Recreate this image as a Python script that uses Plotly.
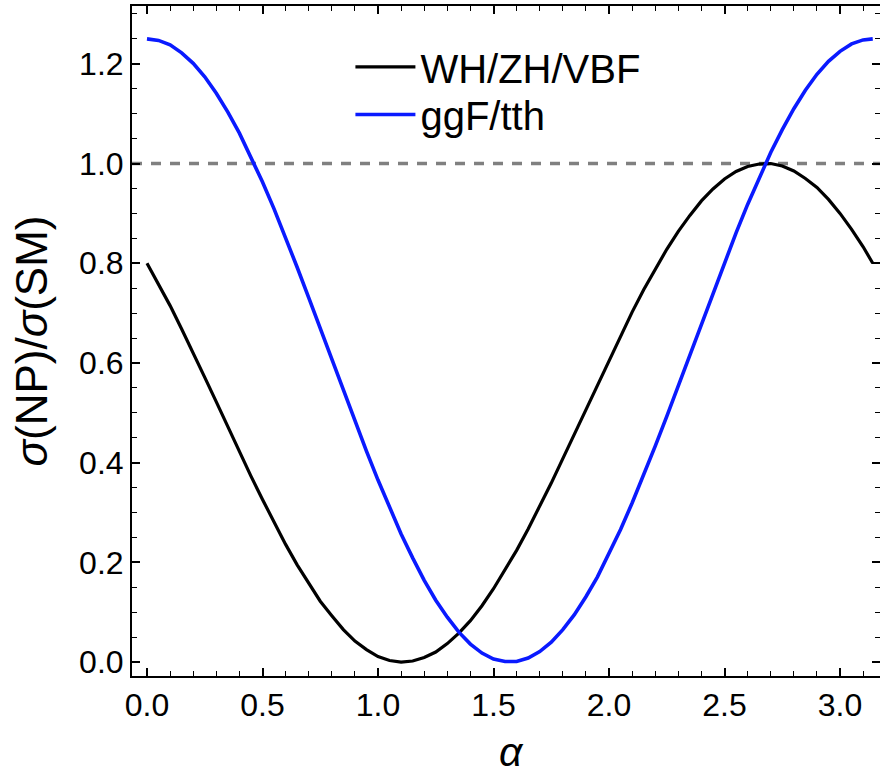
import plotly.graph_objects as go

alpha = [0.0, 0.05, 0.1, 0.15, 0.2, 0.25, 0.3, 0.35, 0.4, 0.45, 0.5, 0.55, 0.6, 0.65, 0.7, 0.75,
         0.8, 0.85, 0.9, 0.95, 1.0, 1.05, 1.1, 1.15, 1.2, 1.25, 1.3, 1.35, 1.4, 1.45, 1.5, 1.55,
         1.6, 1.65, 1.7, 1.75, 1.8, 1.85, 1.9, 1.95, 2.0, 2.05, 2.1, 2.15, 2.2, 2.25, 2.3, 2.35,
         2.4, 2.45, 2.5, 2.55, 2.6, 2.65, 2.7, 2.75, 2.8, 2.85, 2.9, 2.95, 3.0, 3.05, 3.1, 3.1416]

wh_zh_vbf = [0.800, 0.759, 0.715, 0.668, 0.621, 0.571, 0.522, 0.472, 0.422, 0.373, 0.326, 0.280,
             0.236, 0.195, 0.158, 0.122, 0.093, 0.065, 0.042, 0.025, 0.011, 0.003, 0.000, 0.002,
             0.009, 0.020, 0.037, 0.058, 0.083, 0.113, 0.147, 0.184, 0.224, 0.267, 0.312, 0.359,
             0.408, 0.457, 0.507, 0.557, 0.607, 0.655, 0.702, 0.747, 0.789, 0.828, 0.864, 0.896,
             0.925, 0.949, 0.969, 0.984, 0.994, 0.999, 1.000, 0.995, 0.985, 0.970, 0.952, 0.928,
             0.900, 0.868, 0.833, 0.800]

ggf_tth = [1.250, 1.247, 1.238, 1.222, 1.201, 1.174, 1.141, 1.103, 1.061, 1.014, 0.963, 0.909,
           0.852, 0.792, 0.731, 0.669, 0.607, 0.545, 0.483, 0.423, 0.365, 0.310, 0.257, 0.209,
           0.164, 0.124, 0.090, 0.060, 0.036, 0.018, 0.006, 0.001, 0.001, 0.008, 0.021, 0.040,
           0.065, 0.095, 0.131, 0.171, 0.217, 0.266, 0.319, 0.375, 0.433, 0.493, 0.555, 0.617,
           0.680, 0.742, 0.802, 0.861, 0.918, 0.972, 1.022, 1.068, 1.110, 1.147, 1.179, 1.205,
           1.225, 1.240, 1.248, 1.250]

ref_x = [-0.0649, 3.173]
ref_y = [1.0, 1.0]

x_ticks = [0.0, 0.5, 1.0, 1.5, 2.0, 2.5, 3.0]
x_ticklabels = ["0.0", "0.5", "1.0", "1.5", "2.0", "2.5", "3.0"]
y_ticks = [0.0, 0.2, 0.4, 0.6, 0.8, 1.0, 1.2]
y_ticklabels = ["0.0", "0.2", "0.4", "0.6", "0.8", "1.0", "1.2"]

FONT = "Liberation Sans, Arial, sans-serif"

fig = go.Figure()
fig.add_trace(go.Scatter(x=ref_x, y=ref_y, mode="lines", showlegend=False,
                         line=dict(color="#808080", width=3.5, dash="10px,9px"),
                         hoverinfo="skip"))
fig.add_trace(go.Scatter(x=alpha, y=wh_zh_vbf, mode="lines", name="WH/ZH/VBF",
                         line=dict(color="black", width=3.2), legend="legend"))
fig.add_trace(go.Scatter(x=alpha, y=ggf_tth, mode="lines", name="ggF/tth",
                         line=dict(color="#0a1aff", width=3.6), legend="legend2"))

axis_common = dict(
    showline=True, linecolor="black", linewidth=2, mirror="ticks",
    ticks="inside", ticklen=8, tickwidth=1.5, tickcolor="black",
    showgrid=False, zeroline=False,
    tickfont=dict(family=FONT, size=32, color="black"),
)

fig.update_xaxes(
    range=[-0.0649, 3.173], tickmode="array", tickvals=x_ticks, ticktext=x_ticklabels,
    minor=dict(dtick=0.1, tick0=0, ticks="inside", ticklen=5, tickwidth=1.3, tickcolor="black"),
    **axis_common,
)
fig.update_yaxes(
    range=[-0.028, 1.316], tickmode="array", tickvals=y_ticks, ticktext=y_ticklabels,
    minor=dict(dtick=0.05, tick0=0, ticks="inside", ticklen=5, tickwidth=1.3, tickcolor="black"),
    title=dict(text="<i>σ</i>(NP)/<i>σ</i>(SM)", font=dict(family=FONT, size=44, color="black"), standoff=18),
    **axis_common,
)

fig.add_annotation(text="<i>α</i>", xref="paper", yref="paper", x=0.507, y=-0.1505,
                   xanchor="center", yanchor="bottom", showarrow=False,
                   font=dict(family=FONT, size=41, color="black"))

legend_common = dict(xanchor="left", yanchor="middle",
                     font=dict(family=FONT, size=40, color="black"),
                     itemwidth=60, bgcolor="rgba(0,0,0,0)", borderwidth=0)

fig.update_layout(
    width=880, height=778,
    margin=dict(l=132, r=0, t=6, b=102, autoexpand=False),
    paper_bgcolor="white", plot_bgcolor="white",
    legend=dict(x=0.292, y=0.909, **legend_common),
    legend2=dict(x=0.292, y=0.838, **legend_common),
)

fig.write_html("out.html")
